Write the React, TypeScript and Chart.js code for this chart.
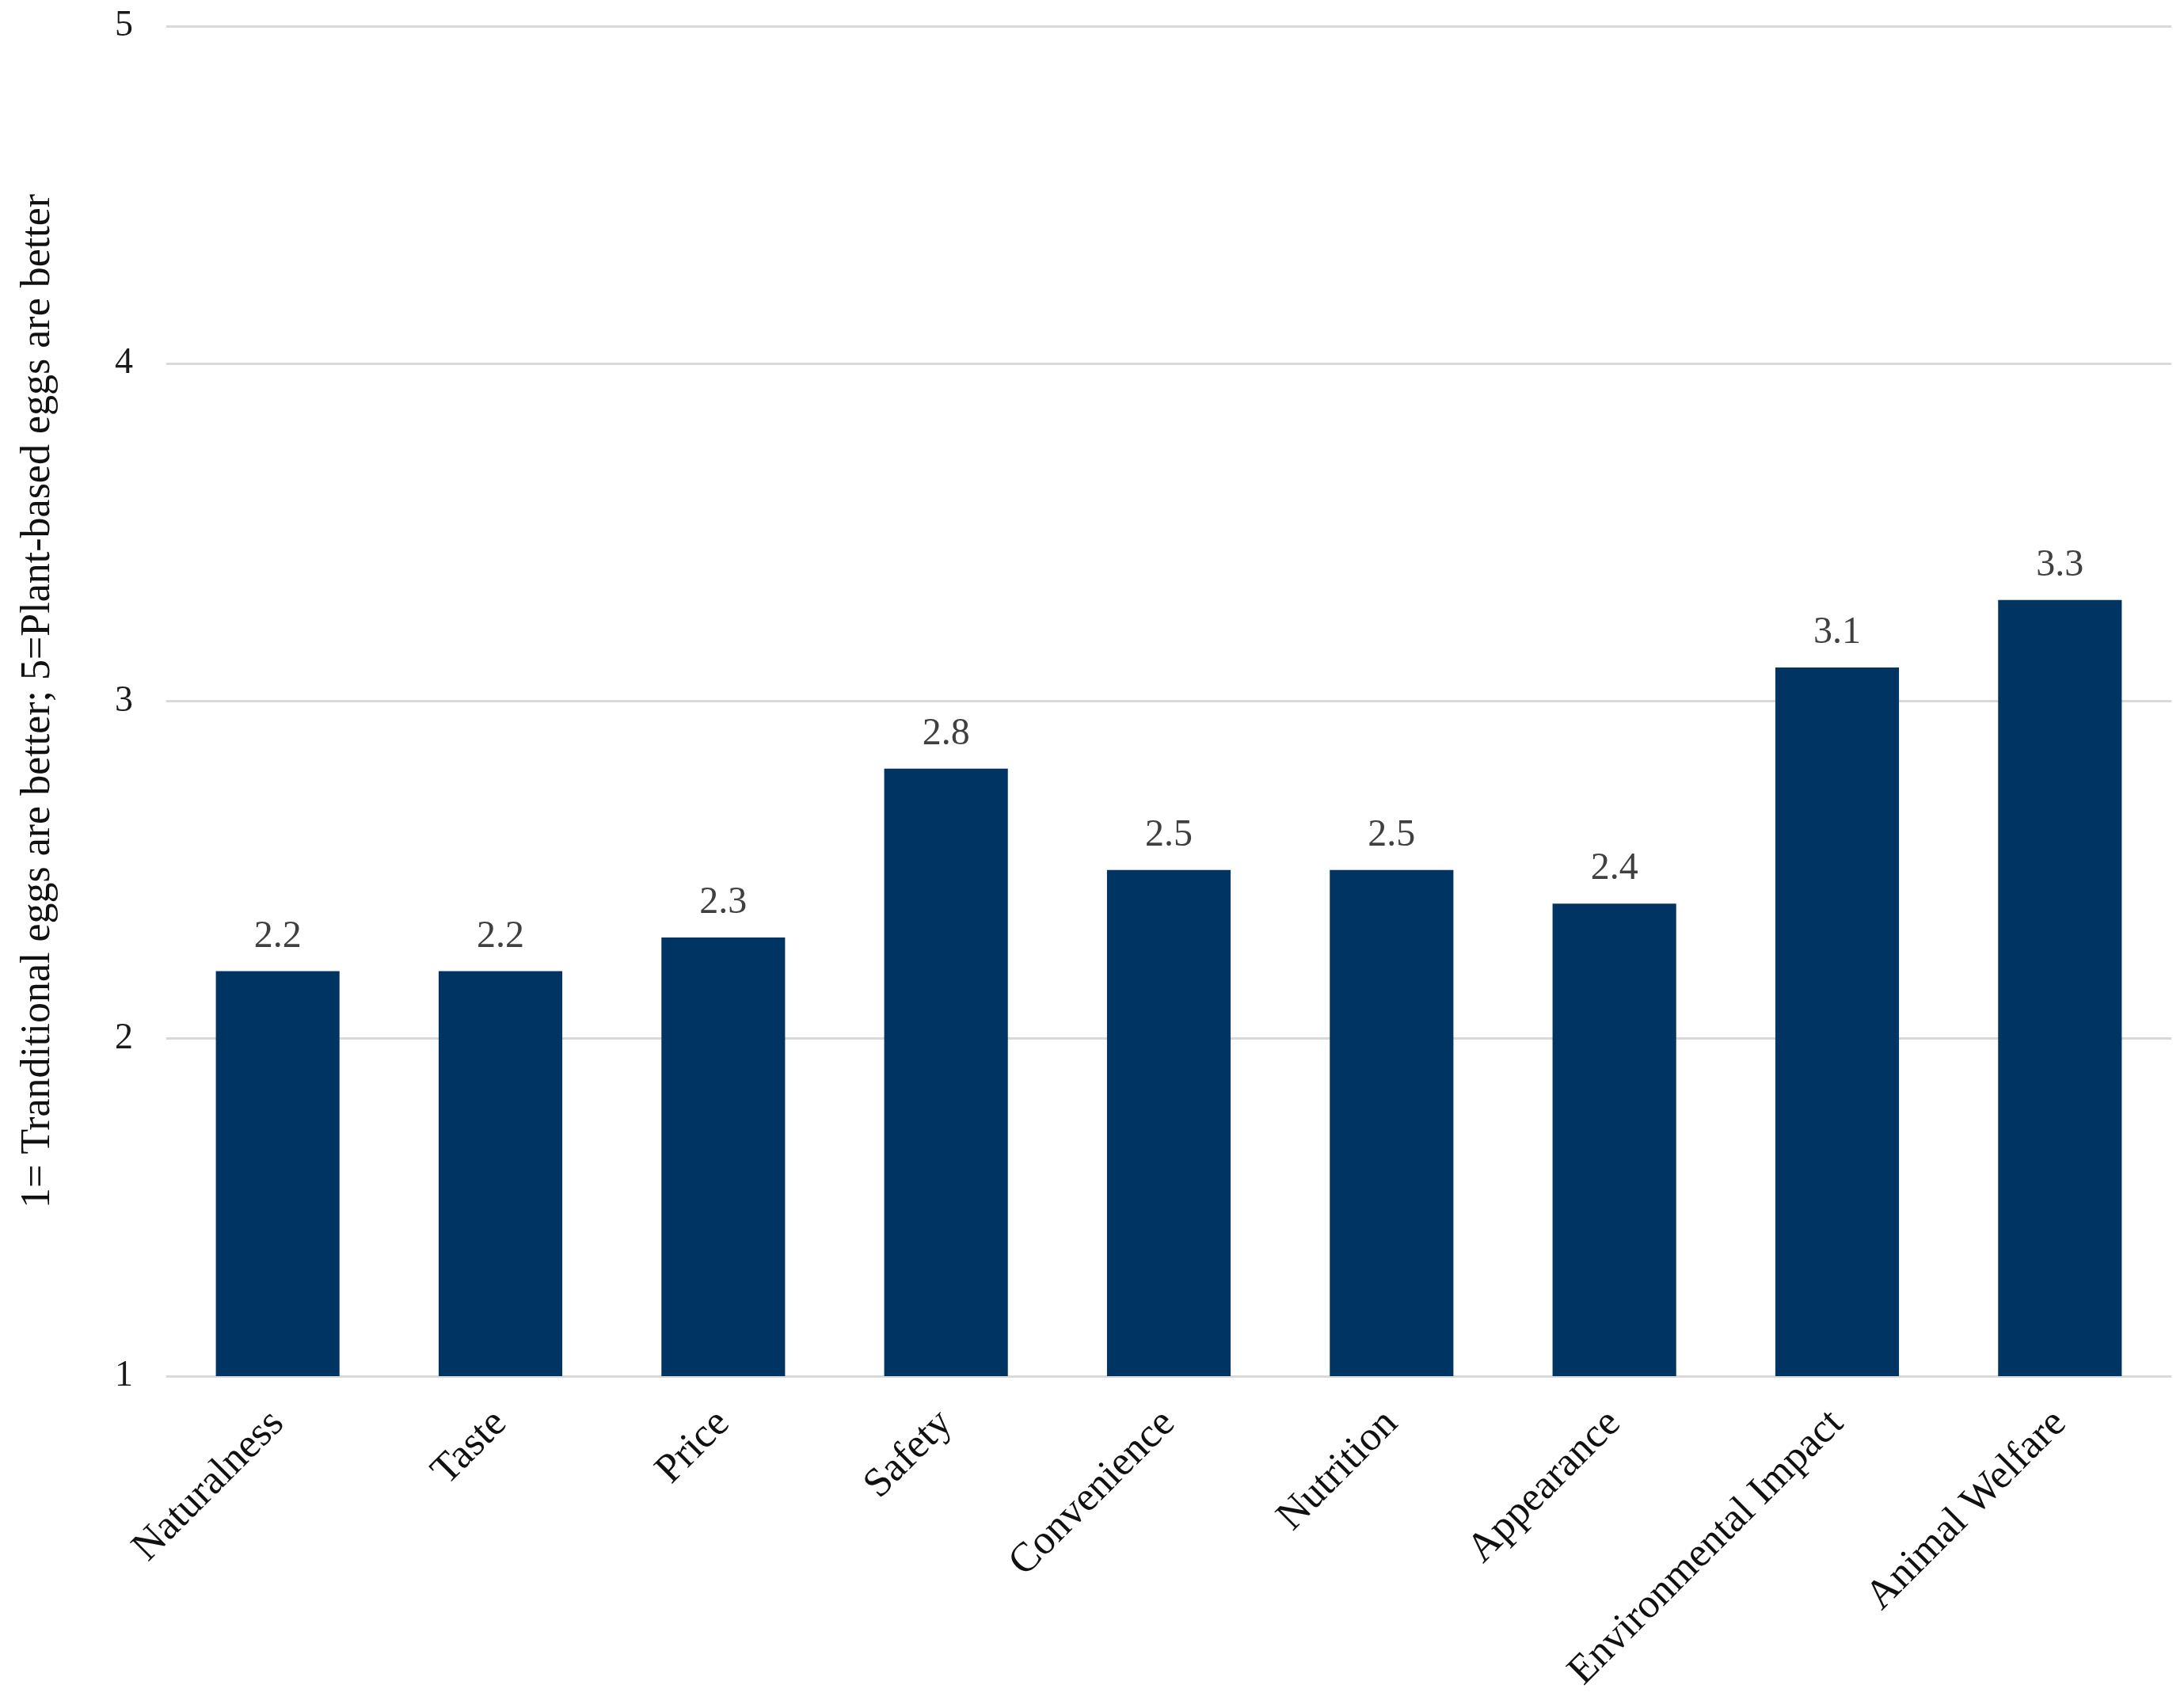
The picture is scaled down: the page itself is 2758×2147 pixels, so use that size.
import { Chart, ChartConfiguration, Plugin, registerables } from "chart.js";
import { useEffect, useState } from "react";

Chart.register(...registerables);

const categories = [
  "Naturalness",
  "Taste",
  "Price",
  "Safety",
  "Convenience",
  "Nutrition",
  "Appearance",
  "Environmental Impact",
  "Animal Welfare"
];
const scores = [2.2, 2.2, 2.3, 2.8, 2.5, 2.5, 2.4, 3.1, 3.3];
const yTicks = [1, 2, 3, 4, 5];
const yTitle = "1= Tranditional eggs are better; 5=Plant-based eggs are better";

const serif = "'Liberation Serif', 'Times New Roman', serif";

// draws the value above every bar
const valueLabels: Plugin<"bar"> = {
  id: "valueLabels",
  afterDatasetsDraw(chart) {
    const ctx = chart.ctx;
    const meta = chart.getDatasetMeta(0);
    ctx.save();
    ctx.font = `48px ${serif}`;
    ctx.fillStyle = "#404040";
    ctx.textAlign = "center";
    ctx.textBaseline = "alphabetic";
    meta.data.forEach((bar, i) => {
      ctx.fillText(scores[i].toFixed(1), bar.x, bar.y - 31);
    });
    ctx.restore();
  }
};

function App() {
  const [canvas, setCanvas] = useState<HTMLCanvasElement | null>(null);

  useEffect(() => {
    if (!canvas) {
      return;
    }

    const config: ChartConfiguration<"bar"> = {
      type: "bar",
      data: {
        labels: categories,
        datasets: [
          {
            data: scores,
            backgroundColor: "#003462",
            categoryPercentage: 1,
            barPercentage: 0.555
          }
        ]
      },
      options: {
        animation: false,
        responsive: true,
        maintainAspectRatio: false,
        layout: {
          padding: { top: 33, right: 16, bottom: 0, left: 0 }
        },
        plugins: {
          legend: { display: false },
          tooltip: { enabled: false }
        },
        scales: {
          x: {
            grid: { display: false },
            border: { display: false },
            ticks: {
              color: "#111",
              font: { family: serif, size: 52 },
              minRotation: 45,
              maxRotation: 45,
              padding: 22,
              autoSkip: false
            },
            afterFit(scale) {
              scale.height = 409;
            }
          },
          y: {
            min: 1,
            max: 5,
            grid: {
              color: "#d9d9d9",
              lineWidth: 3,
              drawTicks: false
            },
            border: { display: false },
            ticks: {
              color: "#1a1a1a",
              font: { family: serif, size: 46 },
              padding: 42
            },
            afterBuildTicks(scale) {
              scale.ticks = yTicks.map((v) => ({ value: v }));
            },
            afterFit(scale) {
              scale.width = 210;
              scale.paddingTop = 0;
              scale.paddingBottom = 0;
            },
            title: {
              display: true,
              text: yTitle,
              color: "#111",
              font: { family: serif, size: 52 },
              padding: { top: 17, bottom: 0 }
            }
          }
        }
      },
      plugins: [valueLabels]
    };

    const chart = new Chart(canvas, config);

    return () => {
      chart.destroy();
    };
  }, [canvas]);

  return (
    <div style={{ position: "absolute", left: 0, top: 0, width: 2758, height: 2147, background: "#fff" }}>
      <canvas ref={setCanvas} />
    </div>
  );
}

export default App;
